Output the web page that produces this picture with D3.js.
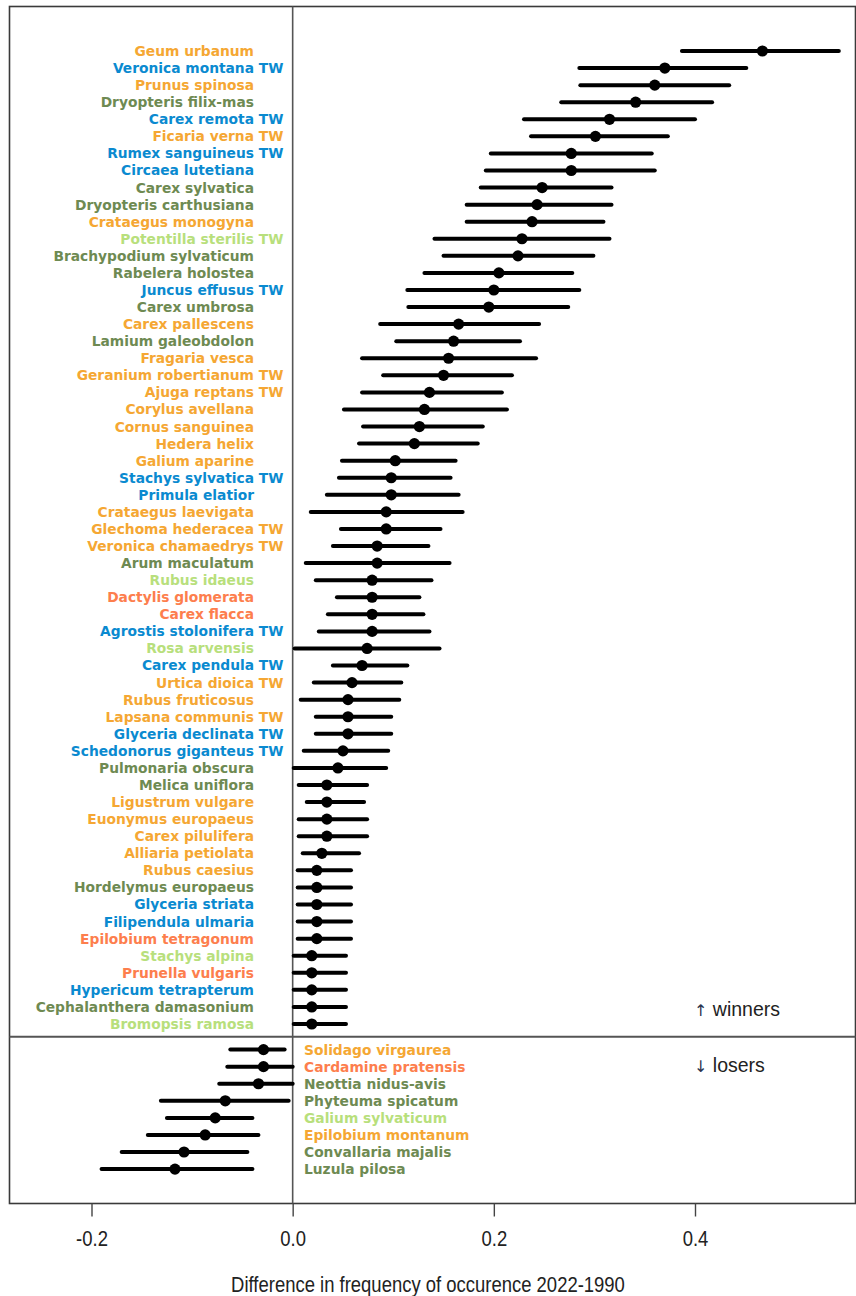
<!DOCTYPE html>
<html>
<head>
<meta charset="utf-8">
<script src="https://cdn.jsdelivr.net/npm/d3@7"></script>
<style>
  html, body { margin: 0; padding: 0; background: #fff; }
  svg { display: block; }
</style>
</head>
<body>
<svg id="chart" width="856" height="1296"></svg>
<script>
// Species whose frequency increased (top to bottom)
const winnerNames = [
  "Geum urbanum", "Veronica montana", "Prunus spinosa", "Dryopteris filix-mas",
  "Carex remota", "Ficaria verna", "Rumex sanguineus", "Circaea lutetiana",
  "Carex sylvatica", "Dryopteris carthusiana", "Crataegus monogyna", "Potentilla sterilis",
  "Brachypodium sylvaticum", "Rabelera holostea", "Juncus effusus", "Carex umbrosa",
  "Carex pallescens", "Lamium galeobdolon", "Fragaria vesca", "Geranium robertianum",
  "Ajuga reptans", "Corylus avellana", "Cornus sanguinea", "Hedera helix",
  "Galium aparine", "Stachys sylvatica", "Primula elatior", "Crataegus laevigata",
  "Glechoma hederacea", "Veronica chamaedrys", "Arum maculatum", "Rubus idaeus",
  "Dactylis glomerata", "Carex flacca", "Agrostis stolonifera", "Rosa arvensis",
  "Carex pendula", "Urtica dioica", "Rubus fruticosus", "Lapsana communis",
  "Glyceria declinata", "Schedonorus giganteus", "Pulmonaria obscura", "Melica uniflora",
  "Ligustrum vulgare", "Euonymus europaeus", "Carex pilulifera", "Alliaria petiolata",
  "Rubus caesius", "Hordelymus europaeus", "Glyceria striata", "Filipendula ulmaria",
  "Epilobium tetragonum", "Stachys alpina", "Prunella vulgaris", "Hypericum tetrapterum",
  "Cephalanthera damasonium", "Bromopsis ramosa"
];
const winnerGroups = [
  "A", "B", "A", "C", "B", "A", "B", "B", "C", "C", "A", "D",
  "C", "C", "B", "C", "A", "C", "A", "A", "A", "A", "A", "A",
  "A", "B", "B", "A", "A", "A", "C", "D", "E", "E", "B", "D",
  "B", "A", "A", "A", "B", "B", "C", "C", "A", "A", "A", "A",
  "A", "C", "B", "B", "E", "D", "E", "B", "C", "D"
];
const winnerTW = [
  0, 1, 0, 0, 1, 1, 1, 0, 0, 0, 0, 1,
  0, 0, 1, 0, 0, 0, 0, 1, 1, 0, 0, 0,
  0, 1, 0, 0, 1, 1, 0, 0, 0, 0, 1, 0,
  1, 1, 0, 1, 1, 1, 0, 0, 0, 0, 0, 0,
  0, 0, 0, 0, 0, 0, 0, 0, 0, 0
];
const winnerMean = [
  0.467, 0.370, 0.360, 0.341, 0.315, 0.301, 0.277, 0.277, 0.248, 0.243, 0.238, 0.228,
  0.224, 0.205, 0.200, 0.195, 0.165, 0.160, 0.155, 0.150, 0.136, 0.131, 0.126, 0.121,
  0.102, 0.098, 0.098, 0.093, 0.093, 0.084, 0.084, 0.079, 0.079, 0.079, 0.079, 0.074,
  0.069, 0.059, 0.055, 0.055, 0.055, 0.050, 0.045, 0.034, 0.034, 0.034, 0.034, 0.029,
  0.024, 0.024, 0.024, 0.024, 0.024, 0.019, 0.019, 0.019, 0.019, 0.019
];
const winnerLow = [
  0.387, 0.285, 0.286, 0.267, 0.230, 0.237, 0.197, 0.192, 0.187, 0.173, 0.173, 0.141,
  0.150, 0.131, 0.114, 0.115, 0.087, 0.103, 0.069, 0.090, 0.069, 0.051, 0.070, 0.066,
  0.049, 0.046, 0.034, 0.018, 0.048, 0.040, 0.013, 0.023, 0.044, 0.035, 0.026, 0.002,
  0.040, 0.021, 0.008, 0.023, 0.023, 0.011, 0.001, 0.006, 0.014, 0.006, 0.006, 0.010,
  0.005, 0.005, 0.005, 0.005, 0.005, 0.001, 0.001, 0.001, 0.001, 0.001
];
const winnerHigh = [
  0.543, 0.451, 0.434, 0.417, 0.400, 0.373, 0.357, 0.360, 0.317, 0.317, 0.309, 0.315,
  0.299, 0.278, 0.285, 0.274, 0.245, 0.226, 0.242, 0.218, 0.208, 0.213, 0.189, 0.184,
  0.162, 0.157, 0.165, 0.169, 0.147, 0.135, 0.156, 0.138, 0.126, 0.130, 0.136, 0.146,
  0.114, 0.108, 0.106, 0.098, 0.098, 0.095, 0.093, 0.074, 0.071, 0.074, 0.074, 0.066,
  0.058, 0.058, 0.058, 0.058, 0.058, 0.053, 0.053, 0.053, 0.053, 0.053
];

// Species whose frequency decreased
const loserNames = [
  "Solidago virgaurea", "Cardamine pratensis", "Neottia nidus-avis", "Phyteuma spicatum",
  "Galium sylvaticum", "Epilobium montanum", "Convallaria majalis", "Luzula pilosa"
];
const loserGroups = ["A", "E", "C", "C", "D", "A", "C", "C"];
const loserMean = [-0.029, -0.029, -0.034, -0.067, -0.077, -0.087, -0.108, -0.117];
const loserLow  = [-0.062, -0.065, -0.073, -0.131, -0.125, -0.144, -0.170, -0.190];
const loserHigh = [-0.008,  0.000,  0.000, -0.004, -0.040, -0.034, -0.045, -0.040];

const xTicks = [-0.2, 0.0, 0.2, 0.4];
const xTitle = "Difference in frequency of occurence 2022-1990";

// Colour per species group
const groupKeys = ["A", "B", "C", "D", "E"];
const groupColors = ["#f5a733", "#0a8ad0", "#6e8a52", "#b8df7c", "#fd7e4d"];

const svg = d3.select("#chart");
const box = { left: 9.5, right: 855.5, top: 6.5, bottom: 1203.5 };

const x = d3.scaleLinear().domain([-0.2, 0.4]).range([91.5, 695]);
// Row positions: winners at 0..57, losers shifted by an extra half row
const y = d3.scaleLinear().domain([0, 65.5]).range([51, 51 + 65.5 * 17.07]);
const color = d3.scaleOrdinal().domain(groupKeys).range(groupColors);

const winners = winnerNames.map((n, i) => ({
  name: n, group: winnerGroups[i], tw: winnerTW[i] === 1,
  mean: winnerMean[i], low: winnerLow[i], high: winnerHigh[i], pos: i
}));
const losers = loserNames.map((n, i) => ({
  name: n, group: loserGroups[i], tw: false,
  mean: loserMean[i], low: loserLow[i], high: loserHigh[i], pos: winnerNames.length + 0.5 + i
}));
const all = winners.concat(losers);

// Frame
svg.append("rect")
  .attr("x", box.left).attr("y", box.top)
  .attr("width", box.right - box.left).attr("height", box.bottom - box.top)
  .attr("fill", "none").attr("stroke", "#3a3a3a").attr("stroke-width", 1.6);

// Zero reference line
svg.append("line")
  .attr("x1", x(0)).attr("x2", x(0))
  .attr("y1", box.top).attr("y2", box.bottom)
  .attr("stroke", "#555").attr("stroke-width", 1.6);

// Divider between winners and losers
const divY = y(winnerNames.length - 0.25);
svg.append("line")
  .attr("x1", box.left).attr("x2", box.right)
  .attr("y1", divY).attr("y2", divY)
  .attr("stroke", "#555").attr("stroke-width", 2);

// Error bars
svg.append("g").selectAll("line")
  .data(all).join("line")
  .attr("x1", d => x(d.low)).attr("x2", d => x(d.high))
  .attr("y1", d => y(d.pos)).attr("y2", d => y(d.pos))
  .attr("stroke", "#000").attr("stroke-width", 4).attr("stroke-linecap", "round");

// Point estimates
svg.append("g").selectAll("circle")
  .data(all).join("circle")
  .attr("cx", d => x(d.mean)).attr("cy", d => y(d.pos))
  .attr("r", 5.6).attr("fill", "#000");

// Species labels
const labelFont = "'DejaVu Sans', Verdana, sans-serif";
const labelSize = 13.8;
const wl = svg.append("g")
  .attr("font-family", labelFont).attr("font-size", labelSize).attr("font-weight", "bold");
wl.selectAll("text.name")
  .data(winners).join("text")
  .attr("class", "name")
  .attr("x", 254).attr("y", d => y(d.pos)).attr("dy", "0.36em")
  .attr("text-anchor", "end")
  .attr("fill", d => color(d.group))
  .text(d => d.name);
wl.selectAll("text.tw")
  .data(winners.filter(d => d.tw)).join("text")
  .attr("class", "tw")
  .attr("x", 254).attr("y", d => y(d.pos)).attr("dy", "0.36em")
  .attr("fill", d => color(d.group))
  .attr("xml:space", "preserve")
  .text(" TW");

svg.append("g")
  .attr("font-family", labelFont).attr("font-size", labelSize).attr("font-weight", "bold")
  .selectAll("text")
  .data(losers).join("text")
  .attr("x", 304).attr("y", d => y(d.pos)).attr("dy", "0.36em")
  .attr("fill", d => color(d.group))
  .text(d => d.name);

// Winners / losers annotations
const noteFont = "'Liberation Sans', Arial, sans-serif";
const notes = [
  { arrow: "\u2191", label: " winners", pos: winnerNames.length - 1.85 },
  { arrow: "\u2193", label: " losers", pos: winnerNames.length + 1.4 }
];
notes.forEach(n => {
  const t = svg.append("text")
    .attr("x", 694).attr("y", y(n.pos)).attr("dy", "0.35em")
    .attr("font-family", noteFont).attr("font-size", 19.5).attr("fill", "#222")
    .attr("xml:space", "preserve");
  t.append("tspan").attr("font-family", "'DejaVu Sans', sans-serif").attr("font-size", 16).attr("fill", "#2b3550").text(n.arrow);
  t.append("tspan").text(n.label);
});

// X axis (condensed lettering for ticks and title)
const axisFont = "'Liberation Sans', Arial, sans-serif";
const axis = d3.axisBottom(x).tickValues(xTicks).tickFormat(d3.format(".1f")).tickSize(13).tickPadding(14);
const ax = svg.append("g").attr("transform", `translate(0,${box.bottom})`).call(axis);
ax.select(".domain").remove();
ax.selectAll(".tick line").attr("stroke", "#444").attr("stroke-width", 1.4);
ax.selectAll(".tick text")
  .attr("font-family", axisFont)
  .attr("font-size", 22).attr("fill", "#222")
  .attr("transform", "scale(0.84,1)")
  .attr("x", 0)
  .text(d => d3.format(".1f")(d).replace("\u2212", "-"));

svg.append("text")
  .attr("transform", "translate(428,1284) scale(0.84,1)")
  .attr("dy", "0.35em")
  .attr("text-anchor", "middle")
  .attr("font-family", axisFont)
  .attr("font-size", 22).attr("fill", "#222")
  .text(xTitle);
</script>
</body>
</html>
